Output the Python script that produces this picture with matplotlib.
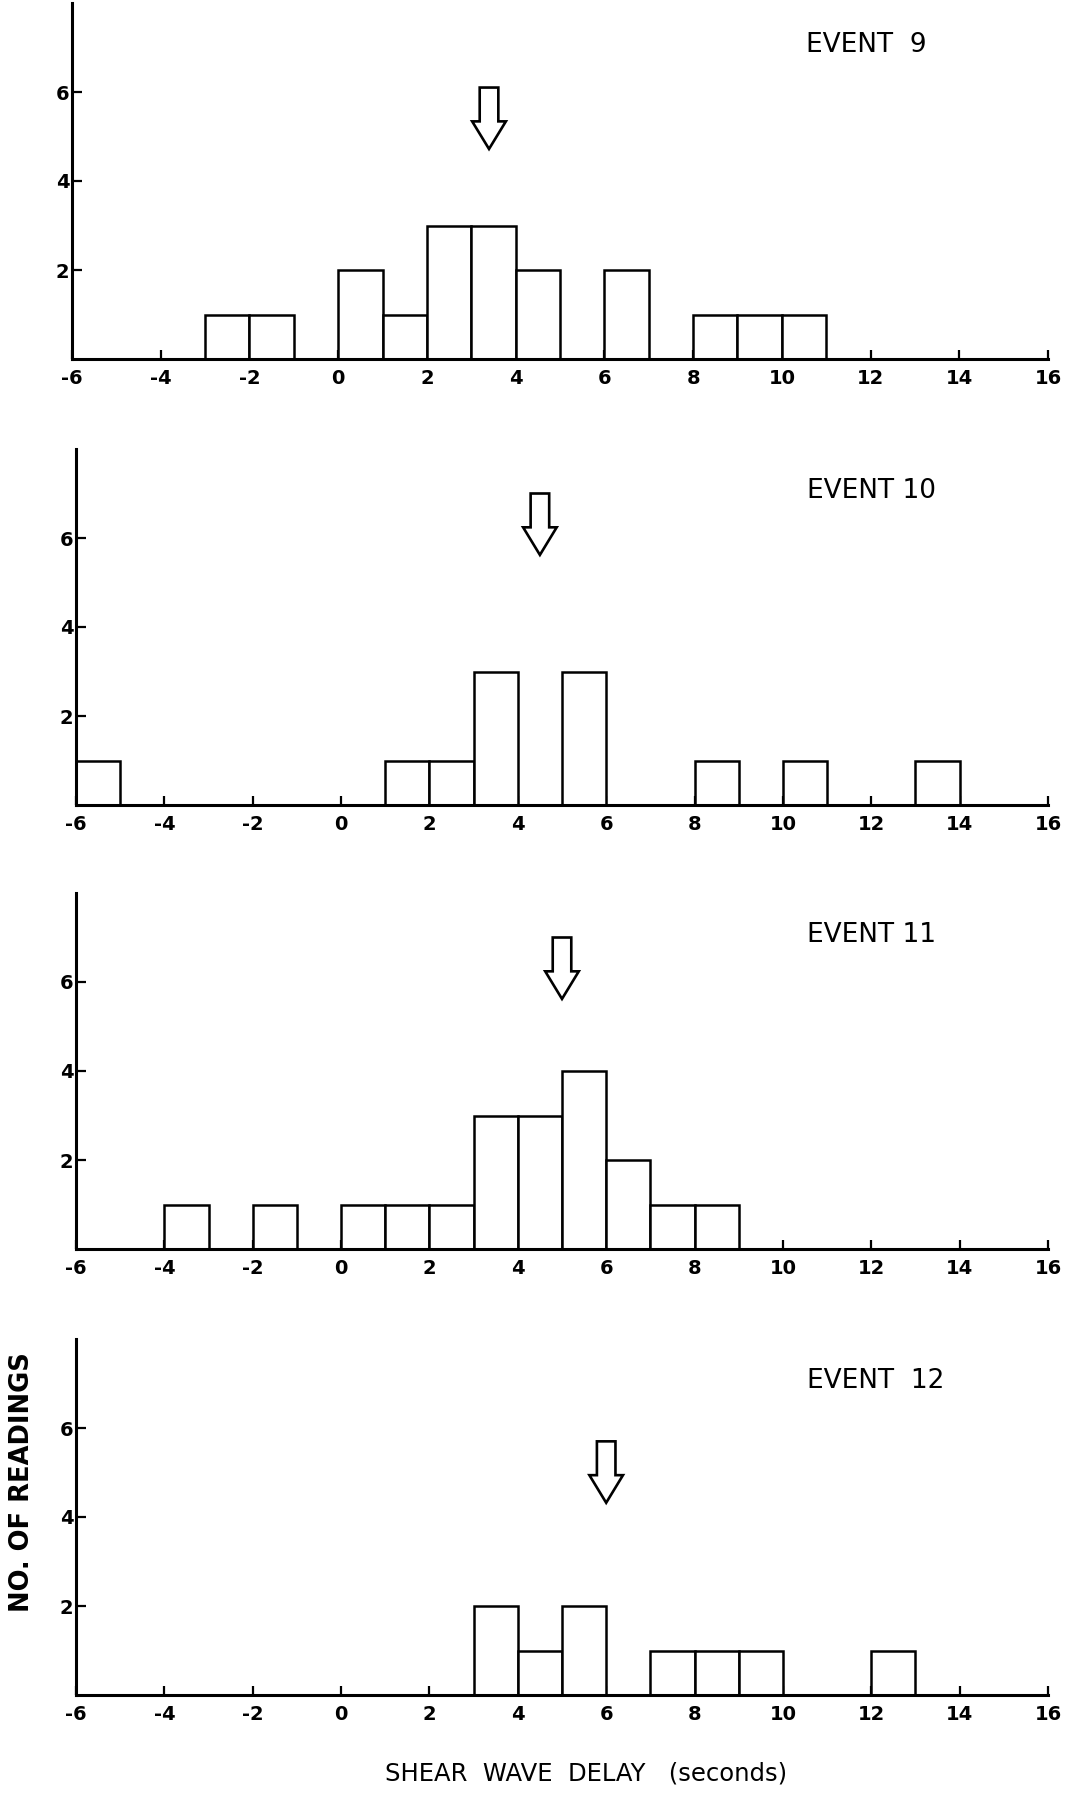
import matplotlib
matplotlib.use("Agg")
import matplotlib.pyplot as plt

# histogram bins (left edge, 1 s wide) and counts for each event
event_names = ["EVENT  9", "EVENT 10", "EVENT 11", "EVENT  12"]

ev9_bins = [-3, -2, 0, 1, 2, 3, 4, 6, 8, 9, 10]
ev9_counts = [1, 1, 2, 1, 3, 3, 2, 2, 1, 1, 1]

ev10_bins = [-6, 1, 2, 3, 5, 8, 10, 13]
ev10_counts = [1, 1, 1, 3, 3, 1, 1, 1]

ev11_bins = [-4, -2, 0, 1, 2, 3, 4, 5, 6, 7, 8]
ev11_counts = [1, 1, 1, 1, 1, 3, 3, 4, 2, 1, 1]

ev12_bins = [3, 4, 5, 7, 8, 9, 12]
ev12_counts = [2, 1, 2, 1, 1, 1, 1]

# mean delay arrows: x position and top of arrow
arrow_x = [3.4, 4.5, 5.0, 6.0]
arrow_top = [6.1, 7.0, 7.0, 5.7]

x_ticks = list(range(-6, 17, 2))
y_ticks = [2, 4, 6]

all_bins = [ev9_bins, ev10_bins, ev11_bins, ev12_bins]
all_counts = [ev9_counts, ev10_counts, ev11_counts, ev12_counts]

W, H = 1089, 1798
fig = plt.figure(figsize=(W / 100, H / 100), dpi=100)

# panel placement in pixels: (left of y axis, baseline)
panel_px = [(72, 359), (76, 805), (76, 1249), (76, 1695)]
right_px = 1048
height_px = 356

for i in range(4):
    left, base = panel_px[i]
    ax = fig.add_axes([left / W, 1 - base / H, (right_px - left) / W, height_px / H])

    ax.bar(all_bins[i], all_counts[i], width=1, align="edge",
           facecolor="white", edgecolor="black", linewidth=1.8, zorder=2)

    ax.arrow(arrow_x[i], arrow_top[i], 0, -1.38, width=0.42, head_width=0.76,
             head_length=0.62, length_includes_head=True,
             facecolor="white", edgecolor="black", linewidth=1.9, zorder=3)

    ax.text(10.55, 7.05, event_names[i], fontsize=19, va="center", ha="left")

    ax.set_xlim(-6, 16)
    ax.set_ylim(0, 8)
    ax.set_xticks(x_ticks)
    ax.set_yticks(y_ticks)
    ax.set_xticklabels([str(t) for t in x_ticks])
    ax.set_yticklabels([str(t) for t in y_ticks])

    for s in ["top", "right"]:
        ax.spines[s].set_visible(False)
    for s in ["left", "bottom"]:
        ax.spines[s].set_linewidth(2.2)
        ax.spines[s].set_zorder(4)

    ax.tick_params(axis="x", direction="in", length=6.5, width=1.6,
                   pad=7.5, labelsize=14)
    ax.tick_params(axis="y", direction="in", length=7, width=1.6,
                   pad=2, labelsize=14)
    for lab in ax.get_xticklabels() + ax.get_yticklabels():
        lab.set_fontweight("bold")

fig.text(586 / W, 1 - 1773 / H, "SHEAR  WAVE  DELAY   (seconds)",
         ha="center", va="center", fontsize=17.5)
fig.text(22 / W, 1 - 1482 / H, "NO. OF READINGS", rotation=90,
         ha="center", va="center", fontsize=18.5, fontweight="bold")

fig.savefig("out.png", dpi=100)
